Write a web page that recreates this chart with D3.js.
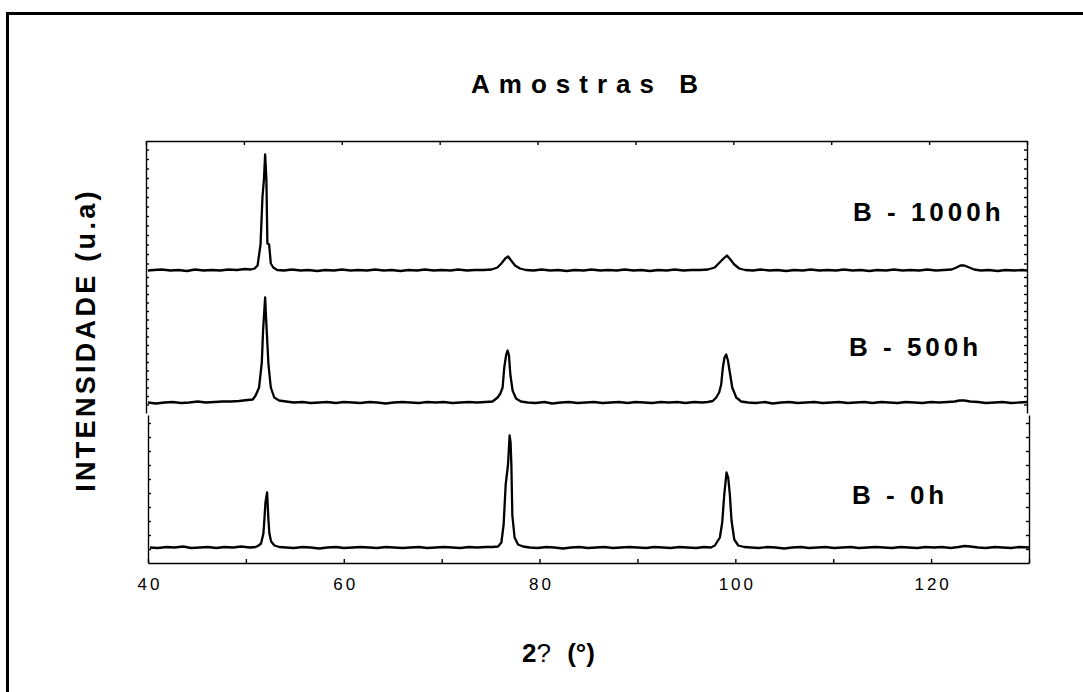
<!DOCTYPE html>
<html>
<head>
<meta charset="utf-8">
<script src="https://cdn.jsdelivr.net/npm/d3@7"></script>
<style>
  body { margin: 0; background: #fff; }
  svg { display: block; }
  text { font-family: Arial, "Liberation Sans", sans-serif; fill: #000; }
</style>
</head>
<body>
<svg></svg>
<script>
// diffractograms, [2theta, intensity above baseline]
const b1000 = [
  [40.2,0],[40.8,0.5],[41.6,1],[42.5,0],[43.3,0.5],[44.2,-0.5],[45.0,1],[45.9,0],[46.7,0.5],[47.6,0],[48.4,1],[49.3,0.5],
  [50.1,1.5],[50.7,1],[51.1,2],[51.4,5],[51.7,26],[51.9,74],[52.05,91],[52.17,116],[52.3,91],[52.4,27],[52.58,26],[52.75,7],
  [53.0,3],[53.4,0.5],[54.1,0],[54.9,1],[55.8,0],[56.6,0.5],[57.5,-0.5],[58.3,0.5],[59.2,0],[60.0,1],[60.9,0],[61.7,0.5],
  [62.6,0],[63.4,1],[64.3,0],[65.1,0.5],[66.0,-0.5],[66.8,0.5],[67.7,0],[68.5,1],[69.4,0],[70.2,0.5],[71.1,0],[71.9,1],
  [72.8,0],[73.6,0.5],[74.5,0.5],[75.3,1],[75.9,3],[76.3,7],[76.7,12],[77.0,14],[77.3,10],[77.7,5],[78.2,2],[78.8,0.5],
  [79.6,0],[80.4,1],[81.3,0],[82.1,0.5],[83.0,-0.5],[83.8,0.5],[84.7,0],[85.5,1],[86.4,0],[87.2,0.5],[88.1,0],[88.9,1],
  [89.8,0],[90.6,0.5],[91.5,-0.5],[92.3,0.5],[93.2,0],[94.0,1],[94.9,0],[95.7,0.5],[96.6,0.5],[97.4,1],[98.1,3],[98.6,8],
  [99.0,12],[99.35,15],[99.7,11],[100.1,6],[100.6,2],[101.2,0.5],[102.0,0],[102.8,1],[103.7,0],[104.5,0.5],[105.4,-0.5],
  [106.2,0.5],[107.1,0],[107.9,1],[108.8,0],[109.6,0.5],[110.5,0],[111.3,1],[112.2,0],[113.0,0.5],[113.9,-0.5],[114.7,0.5],
  [115.6,0],[116.4,1],[117.3,0],[118.1,0.5],[119.0,0],[119.8,1],[120.7,0],[121.5,0.5],[122.3,1],[122.8,3],[123.2,5],
  [123.6,5],[124.1,3],[124.6,1],[125.3,0],[126.1,0.5],[127.0,-0.5],[127.8,0.5],[128.7,0],[129.5,0.5],[130.0,0]
];

const b500 = [
  [40.2,0],[41.0,-1],[41.9,0],[42.7,0.5],[43.6,-0.5],[44.4,0],[45.3,1],[46.1,0],[47.0,0.5],[47.8,1],[48.7,1],[49.5,1.5],
  [50.4,2.5],[50.9,3],[51.2,7],[51.55,15],[51.83,40],[51.96,72],[52.17,105],[52.3,78],[52.51,38],[52.75,15],[53.1,5],
  [53.6,2],[54.3,1],[55.1,0],[56.0,0.5],[56.8,-0.5],[57.7,0],[58.5,0.5],[59.4,-0.5],[60.2,0.5],[61.1,0],[61.9,-0.5],
  [62.8,0.5],[63.6,0],[64.5,-1],[65.3,0],[66.2,0.5],[67.0,0],[67.9,-0.5],[68.7,0.5],[69.6,0],[70.4,0.5],[71.3,-0.5],
  [72.1,0],[73.0,0.5],[73.8,0],[74.7,0.5],[75.4,1],[75.92,5],[76.2,9],[76.43,15],[76.6,35],[76.8,48],[76.94,52],
  [77.08,47],[77.22,28],[77.45,12],[77.8,4],[78.3,1],[79.0,0],[79.8,-0.5],[80.7,0.5],[81.5,-1],[82.4,0],[83.2,0.5],
  [84.1,-0.5],[84.9,0],[85.8,0.5],[86.6,-0.5],[87.5,0],[88.3,0.5],[89.2,-0.5],[90.0,0.5],[90.9,0],[91.7,-0.5],[92.6,0.5],
  [93.4,0],[94.3,0.5],[95.1,-0.5],[96.0,0.5],[96.8,0],[97.4,0.5],[97.9,1.5],[98.25,5],[98.55,10],[98.76,18],[98.93,35],
  [99.1,45],[99.27,48],[99.45,42],[99.61,32],[99.89,15],[100.3,5],[100.8,1],[101.5,0],[102.3,-0.5],[103.2,0.5],[104.0,-1],
  [104.9,0],[105.7,0.5],[106.6,-0.5],[107.4,0],[108.3,0.5],[109.1,-0.5],[110.0,0],[110.8,0.5],[111.7,-0.5],[112.5,0],
  [113.4,0.5],[114.2,-0.5],[115.1,0.5],[115.9,0],[116.8,-0.5],[117.6,0.5],[118.5,0],[119.3,-0.5],[120.2,0.5],[121.0,0],
  [121.9,0.5],[122.6,1],[123.1,2],[123.6,2],[124.2,1],[125.0,0.5],[125.8,-0.5],[126.7,0],[127.5,0.5],[128.4,-0.5],
  [129.2,0],[130.0,0.5]
];

const b0 = [
  [40.2,0],[41.0,-0.5],[41.9,0.5],[42.7,0],[43.6,1],[44.4,-0.5],[45.3,0],[46.1,0.5],[47.0,-0.5],[47.8,0.5],[48.7,0],
  [49.5,1],[50.4,0],[51.0,0.5],[51.3,2],[51.55,4],[51.79,14],[51.89,28],[51.99,44],[52.08,50],[52.17,55],[52.24,40],
  [52.3,28],[52.4,14],[52.58,6],[52.92,2],[53.4,0.5],[54.1,0],[54.9,-0.5],[55.8,0.5],[56.6,0],[57.5,-1],[58.3,0],
  [59.2,0.5],[60.0,-0.5],[60.9,0],[61.7,0.5],[62.6,0],[63.4,-0.5],[64.3,0.5],[65.1,0],[66.0,-0.5],[66.8,0],[67.7,0.5],
  [68.5,-0.5],[69.4,0],[70.2,0.5],[71.1,0],[71.9,-0.5],[72.8,0.5],[73.6,0],[74.5,0.5],[75.2,0.5],[75.76,1],[76.1,5],
  [76.33,23],[76.54,63],[76.78,83],[76.94,112],[77.04,105],[77.12,83],[77.22,32],[77.45,10],[77.8,3],[78.31,1],[79.0,0],
  [79.8,-0.5],[80.7,0.5],[81.5,0],[82.4,-1],[83.2,0],[84.1,0.5],[84.9,-0.5],[85.8,0],[86.6,0.5],[87.5,-0.5],[88.3,0],
  [89.2,0.5],[90.0,0],[90.9,-0.5],[91.7,0.5],[92.6,0],[93.4,-0.5],[94.3,0.5],[95.1,0],[96.0,-0.5],[96.8,0.5],[97.5,0],
  [97.91,2],[98.42,10],[98.66,25],[98.87,53],[99.1,75],[99.27,70],[99.44,53],[99.61,27],[99.89,8],[100.3,2],[100.9,0.5],
  [101.6,0],[102.4,-0.5],[103.3,0.5],[104.1,0],[105.0,-1],[105.8,0],[106.7,0.5],[107.5,-0.5],[108.4,0],[109.2,0.5],
  [110.1,-0.5],[110.9,0],[111.8,0.5],[112.6,-0.5],[113.5,0],[114.3,0.5],[115.2,0],[116.0,-0.5],[116.9,0.5],[117.7,0],
  [118.6,-0.5],[119.4,0.5],[120.3,0],[121.1,0.5],[122.0,-0.5],[122.8,0.5],[123.4,1.5],[124.0,1],[124.8,0],[125.6,-0.5],
  [126.5,0.5],[127.3,0],[128.2,-0.5],[129.0,0.5],[130.0,0]
];

const seriesLabels = ["B - 1000h", "B - 500h", "B - 0h"];
const xDomain = [40, 130];
const xTicks = [40, 50, 60, 70, 80, 90, 100, 110, 120, 130];
const xLabelled = [40, 60, 80, 100, 120];

const width = 1083, height = 692;

const svg = d3.select("svg")
    .attr("width", width)
    .attr("height", height);

// page frame, only its top and left edges land on the page
svg.append("rect")
    .attr("x", 7.5).attr("y", 13.5)
    .attr("width", 1200).attr("height", 800)
    .attr("fill", "none")
    .attr("stroke", "#000")
    .attr("stroke-width", 3);

// stacked layers, top to bottom
const layers = [
    {data: b1000, label: seriesLabels[0], top: 141, bottom: 273, left: 146, right: 1027, base: 270.5, step: 9.5, lx: 853, ly: 221},
    {data: b500,  label: seriesLabels[1], top: 273, bottom: 413, left: 146, right: 1027, base: 402.5, step: 8.5, lx: 849, ly: 356},
    {data: b0,    label: seriesLabels[2], top: 415, bottom: 563, left: 148, right: 1029, base: 547.5, step: 14,  lx: 852, ly: 504}
];

layers.forEach((layer, i) => {
    const x = d3.scaleLinear()
        .domain(xDomain)
        .range([layer.left, layer.right]);

    // 1 intensity unit per pixel, zero on the baseline
    const y = d3.scaleLinear()
        .domain([-(layer.bottom - layer.base), layer.base - layer.top])
        .range([layer.bottom, layer.top]);

    const yTicks = d3.range(y.domain()[0] + layer.step, y.domain()[1], layer.step);

    const g = svg.append("g");

    g.append("g")
        .attr("class", "axis")
        .attr("transform", `translate(${layer.left},0)`)
        .call(d3.axisLeft(y).tickValues(yTicks).tickSizeInner(-3).tickSizeOuter(0).tickFormat(""));

    g.append("g")
        .attr("class", "axis")
        .attr("transform", `translate(${layer.right},0)`)
        .call(d3.axisRight(y).tickValues(yTicks).tickSizeInner(-3).tickSizeOuter(0).tickFormat(""));

    if (i === 0) {
        g.append("g")
            .attr("class", "axis")
            .attr("transform", `translate(0,${layer.top})`)
            .call(d3.axisTop(x).tickValues(xTicks).tickSizeInner(-4).tickSizeOuter(0).tickFormat(""));
    }

    if (i === layers.length - 1) {
        g.append("g")
            .attr("class", "axis xaxis")
            .attr("transform", `translate(0,${layer.bottom})`)
            .call(d3.axisBottom(x).tickValues(xTicks).tickSizeInner(-4).tickSizeOuter(0).tickPadding(15)
                .tickFormat(d => xLabelled.includes(d) ? d : ""));
    }

    const line = d3.line()
        .x(d => x(d[0]))
        .y(d => y(d[1]));

    g.append("path")
        .datum(layer.data)
        .attr("d", line)
        .attr("fill", "none")
        .attr("stroke", "#000")
        .attr("stroke-width", 2.3)
        .attr("stroke-linejoin", "round");

    g.append("text")
        .attr("x", layer.lx)
        .attr("y", layer.ly)
        .style("font-size", "26px")
        .style("font-weight", "bold")
        .style("letter-spacing", "4px")
        .text(layer.label);
});

svg.selectAll(".axis path, .axis line")
    .attr("stroke", "#000")
    .attr("stroke-width", 1.4);

svg.selectAll(".xaxis text")
    .attr("font-family", null)
    .style("font-size", "17px")
    .style("letter-spacing", "3px")
    .attr("dx", "1.5px");

// titles
svg.append("text")
    .attr("x", 471)
    .attr("y", 93)
    .style("font-size", "26px")
    .style("font-weight", "bold")
    .style("letter-spacing", "9px")
    .text("Amostras B");

svg.append("text")
    .attr("transform", "translate(95,340) rotate(-90)")
    .attr("text-anchor", "middle")
    .style("font-size", "27px")
    .style("font-weight", "bold")
    .style("letter-spacing", "3.3px")
    .text("INTENSIDADE (u.a)");

const xTitle = svg.append("text")
    .attr("x", 522)
    .attr("y", 662)
    .style("font-size", "26px")
    .style("font-weight", "bold");
xTitle.append("tspan").text("2");
xTitle.append("tspan").style("font-weight", "normal").text("?");
xTitle.append("tspan").attr("dx", 9).text(" (°)");
</script>
</body>
</html>
